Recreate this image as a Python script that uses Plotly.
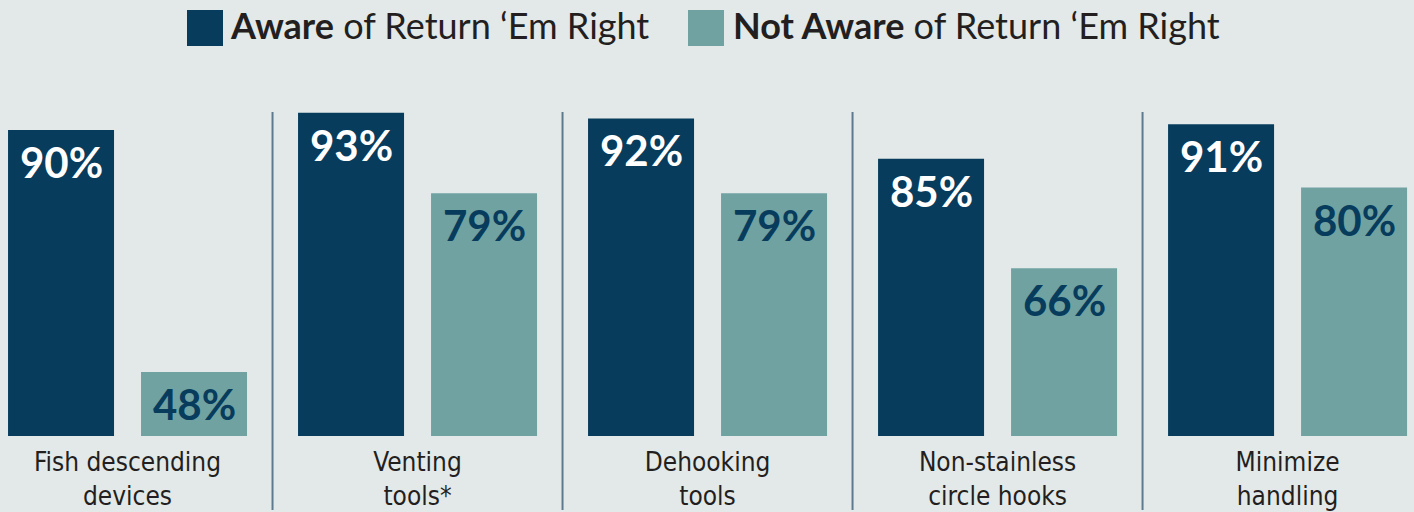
import plotly.graph_objects as go

categories = ["Fish descending<br>devices", "Venting<br>tools*", "Dehooking<br>tools",
              "Non-stainless<br>circle hooks", "Minimize<br>handling"]
aware = [90, 93, 92, 85, 91]
not_aware = [48, 79, 79, 66, 80]
series_bold = ["Aware", "Not Aware"]
series_rest = " of Return \u2018Em Right"

BG = "#e3e9e9"
DARK = "#073c5d"
TEAL = "#70a2a2"
SEP = "#5d7a8e"
TXT = "#231f20"

W = 0.3655
OFF_A = -0.412
OFF_N = 0.0466
Y0, Y1 = 36.9, 95.2

xs = list(range(len(categories)))

fig = go.Figure()
fig.add_trace(go.Bar(x=xs, y=aware, width=W, offset=OFF_A, marker_color=DARK,
                     marker_line_width=0, name=series_bold[0] + series_rest))
fig.add_trace(go.Bar(x=xs, y=not_aware, width=W, offset=OFF_N, marker_color=TEAL,
                     marker_line_width=0, name=series_bold[1] + series_rest))

ann = []
for vals, off, col in [(aware, OFF_A, "white"), (not_aware, OFF_N, DARK)]:
    for i, v in zip(xs, vals):
        ann.append(dict(x=i + off + W / 2, y=v, xref="x", yref="y", text=f"<b>{v}%</b>",
                        showarrow=False, yanchor="top", xanchor="center", yshift=-5,
                        font=dict(family="Lato, sans-serif", size=42, color=col)))

shapes = []
for i in xs[:-1]:
    shapes.append(dict(type="line", xref="x", yref="paper", x0=i + 0.5, x1=i + 0.5,
                       y0=-0.22, y1=0.964, line=dict(color=SEP, width=2)))

# legend (drawn manually to match large swatches)
def py(p):
    return (436 - p) / 336

legend_items = [(187, 228, DARK, series_bold[0]), (688, 731, TEAL, series_bold[1])]
for sx, tx, col, bold in legend_items:
    shapes.append(dict(type="rect", xref="paper", yref="paper", x0=sx / 1414, x1=(sx + 36) / 1414,
                       y0=py(46), y1=py(10), fillcolor=col, line=dict(width=0)))
    ann.append(dict(x=tx / 1414, y=py(25), xref="paper", yref="paper", xanchor="left", yanchor="middle",
                    showarrow=False, text=f"<b>{bold}</b>{series_rest}",
                    font=dict(family="Lato, sans-serif", size=36, color=TXT)))

fig.update_layout(
    width=1414, height=512,
    margin=dict(l=0, r=0, t=100, b=76),
    paper_bgcolor=BG, plot_bgcolor=BG,
    showlegend=False,
    barmode="overlay",
    xaxis=dict(range=[-0.4397, 4.436], tickvals=xs, ticktext=categories,
               showgrid=False, zeroline=False, showline=False, ticks="",
               ticklabelstandoff=8,
               tickfont=dict(family="DejaVu Sans Condensed, DejaVu Sans, sans-serif",
                             size=26, color=TXT)),
    yaxis=dict(range=[Y0, Y1], visible=False),
    annotations=ann, shapes=shapes,
)

fig.write_html("out.html", config={"displayModeBar": False},
               post_script="document.body.style.margin='0';document.body.style.overflow='hidden';")
